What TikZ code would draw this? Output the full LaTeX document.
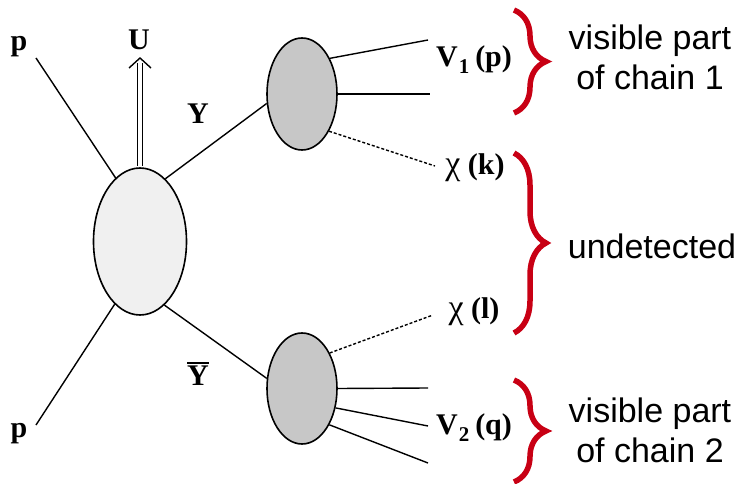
\documentclass[tikz,border=0pt]{standalone}
\usepackage{fontspec}
\setmainfont{Liberation Sans}
\newfontfamily\tnr{Liberation Serif}
\usetikzlibrary{shapes.geometric,decorations.pathreplacing}
\definecolor{bred}{RGB}{200,0,20}
\begin{document}
\begin{tikzpicture}[x=1pt,y=-1pt,
  blob/.style={ellipse, draw, line width=1.6pt, inner sep=0pt},
  leg/.style={line width=1.4pt},
  inv/.style={line width=1.4pt, dash pattern=on 3pt off 2pt},
  lab/.style={font=\fontsize{30}{30}\selectfont\tnr\bfseries, inner sep=0pt},
  note/.style={font=\fontsize{34}{40}\selectfont, align=center, inner sep=0pt},
  br/.style={decorate, decoration={brace, amplitude=32pt}, line width=5.5pt, draw=bred}]
\useasboundingbox (0,0) rectangle (742,484);
% blobs
\node[blob, fill=black!6, minimum width=93pt, minimum height=147pt] (big) at (140,241.5) {};
\node[blob, fill=black!22, minimum width=70pt, minimum height=112pt] (u1) at (302,94) {};
\node[blob, fill=black!22, minimum width=70pt, minimum height=111pt] (l1) at (302,388.5) {};
% end points
\coordinate (pa) at (36,58);
\coordinate (pb) at (36,425);
\coordinate (ua) at (140,58);
\coordinate (ub) at (140,63);
\coordinate (v1a) at (428,40);
\coordinate (v1b) at (430,94);
\coordinate (ck) at (435,166);
\coordinate (cl) at (433,315);
\coordinate (v2a) at (428,388);
\coordinate (v2b) at (428,426);
\coordinate (v2c) at (428,463);
% connectors
\draw[leg] (pa) -- (big.111);
\draw[leg] (pb) -- (big.248.5);
\draw[leg] (big.68.5) -- (u1.195);
\draw[leg] (big.291.5) -- (l1.164);
\draw[leg, double distance=3.5pt] ([yshift=1.2pt]big.north) -- (ub);
\draw[leg] ([shift={(-11,10)}]ua) -- (ua) -- ([shift={(11,10)}]ua);
\draw[leg] (u1.52) -- (v1a);
\draw[leg] (u1.0) -- (v1b);
\draw[inv] (u1.-54) -- (ck);
\draw[inv] (l1.52) -- (cl);
\draw[leg] (l1.0) -- (v2a);
\draw[leg] (l1.-30) -- (v2b);
\draw[leg] (l1.-53) -- (v2c);
% labels
\node[lab] (p1) at (19,47) {p};
\node[lab] (U) at (139,40) {U};
\node[lab] (Y) at (198,114) {Y};
\node[lab] (Yb) at (198,374) {\vbox{\hrule height 1.6pt\kern2pt\hbox{Y}}};
\node[lab] (p2) at (19,434) {p};
\node[lab] (V1) at (474,60) {V\kern1pt\raisebox{-7pt}{\fontsize{21}{21}\selectfont 1}\kern6pt(p)};
\node[lab] (chik) at (475,168) {{\mdseries\fontsize{34}{34}\selectfont χ} (k)};
\node[lab] (chil) at (474,312) {{\mdseries\fontsize{34}{34}\selectfont χ} (l)};
\node[lab] (V2) at (474,428) {V\kern1pt\raisebox{-7pt}{\fontsize{21}{21}\selectfont 2}\kern6pt(q)};
% braces
\draw[br] (514,10) -- (514,113);
\draw[br] (514,153) -- (514,333);
\draw[br] (514,380) -- (514,482);
\node[note] (n1) at (650,57) {visible part\\of chain 1};
\node[note] (n2) at (652,246) {undetected};
\node[note] (n3) at (650,430) {visible part\\of chain 2};
\end{tikzpicture}
\end{document}
